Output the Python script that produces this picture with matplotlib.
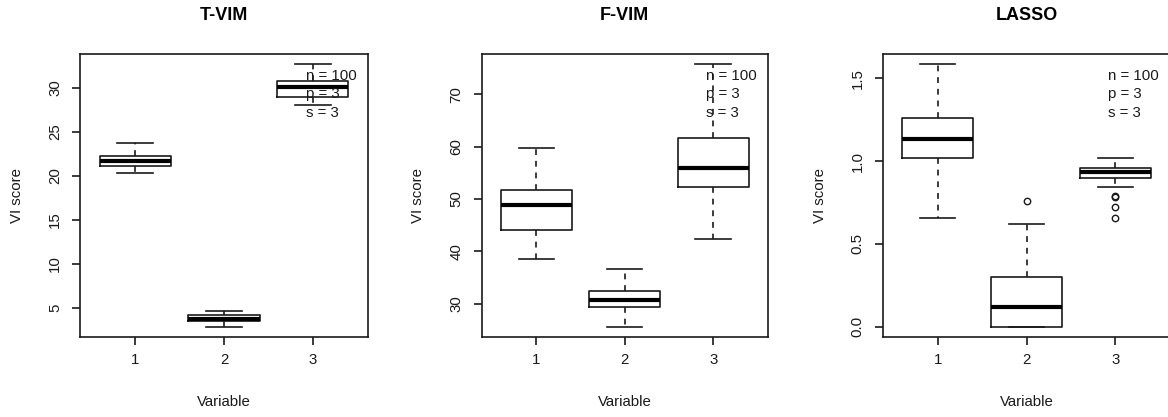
import matplotlib
matplotlib.use("Agg")
import matplotlib.pyplot as plt

plt.rcParams["font.family"] = ["Liberation Sans", "DejaVu Sans"]

# Box-plot summaries per method: (lower whisker, Q1, median, Q3, upper whisker)
variables = [1, 2, 3]

tvim_whislo = [20.29, 2.87, 28.03]
tvim_q1 = [21.09, 3.48, 28.98]
tvim_med = [21.69, 3.75, 30.10]
tvim_q3 = [22.22, 4.13, 30.80]
tvim_whishi = [23.78, 4.58, 32.66]
tvim_fliers = [[], [], []]

fvim_whislo = [38.54, 25.66, 42.44]
fvim_q1 = [44.14, 29.29, 52.20]
fvim_med = [48.78, 30.77, 55.95]
fvim_q3 = [51.66, 32.49, 61.70]
fvim_whishi = [59.66, 36.70, 75.66]
fvim_fliers = [[], [], []]

lasso_whislo = [0.656, 0.000, 0.844]
lasso_q1 = [1.017, 0.000, 0.896]
lasso_med = [1.132, 0.117, 0.933]
lasso_q3 = [1.261, 0.299, 0.959]
lasso_whishi = [1.584, 0.620, 1.021]
lasso_fliers = [[], [0.757], [0.790, 0.785, 0.723, 0.654]]

titles = ["T-VIM", "F-VIM", "LASSO"]
yticks = [[5, 10, 15, 20, 25, 30], [30, 40, 50, 60, 70], [0.0, 0.5, 1.0, 1.5]]
yticklabels = [["5", "10", "15", "20", "25", "30"],
               ["30", "40", "50", "60", "70"],
               ["0.0", "0.5", "1.0", "1.5"]]
info_lines = ["n = 100", "p = 3", "s = 3"]

panels = [
    (tvim_whislo, tvim_q1, tvim_med, tvim_q3, tvim_whishi, tvim_fliers),
    (fvim_whislo, fvim_q1, fvim_med, fvim_q3, fvim_whishi, fvim_fliers),
    (lasso_whislo, lasso_q1, lasso_med, lasso_q3, lasso_whishi, lasso_fliers),
]

W, H = 1168, 417
DPI = 100
fig = plt.figure(figsize=(W / DPI, H / DPI), dpi=DPI)

# plot regions in pixels: (left, right, top, bottom)
regions = [(80, 368, 54, 337), (481.5, 768, 54, 337), (882.5, 1170.5, 54, 337)]

FS = 10.8
lw = 1.2
ink = "#1a1a1a"

for k, (reg, stats_src) in enumerate(zip(regions, panels)):
    l, r, t, b = reg
    ax = fig.add_axes([l / W, 1 - b / H, (r - l) / W, (b - t) / H])
    whislo, q1, med, q3, whishi, fliers = stats_src
    stats = []
    for i in range(len(variables)):
        stats.append(dict(whislo=whislo[i], q1=q1[i], med=med[i], q3=q3[i],
                          whishi=whishi[i], fliers=fliers[i]))
    ax.bxp(stats, positions=variables, widths=0.8, capwidths=0.4,
           boxprops=dict(color=ink, linewidth=lw),
           whiskerprops=dict(color=ink, linewidth=lw, linestyle=(0, (3.5, 3.5))),
           capprops=dict(color=ink, linewidth=lw),
           medianprops=dict(color="black", linewidth=3.0,
                            solid_capstyle="butt"),
           flierprops=dict(marker="o", markerfacecolor="none",
                           markeredgecolor=ink, markersize=4.6,
                           markeredgewidth=1.0),
           manage_ticks=False)

    allv = whislo + whishi + [v for f in fliers for v in f]
    lo, hi = min(allv), max(allv)
    pad = 0.04 * (hi - lo)
    ax.set_ylim(lo - pad, hi + pad)
    ax.set_xlim(0.5 - 0.12, 3.5 + 0.12)

    ax.set_xticks(variables)
    ax.set_xticklabels([str(v) for v in variables], fontsize=FS, color=ink)
    ax.set_yticks(yticks[k])
    ax.set_yticklabels(yticklabels[k], fontsize=FS, rotation=90, va="center",
                       color=ink)
    ax.tick_params(axis="both", direction="out", length=5.8, width=lw,
                   color=ink)
    ax.tick_params(axis="x", pad=6.0)
    ax.tick_params(axis="y", pad=7.0)

    for sp in ax.spines.values():
        sp.set_visible(True)
        sp.set_linewidth(lw)
        sp.set_color(ink)

    ax.set_xlabel("Variable", fontsize=FS, va="center", color=ink)
    ax.xaxis.set_label_coords(0.5, -64.7 / (b - t))
    ax.set_ylabel("VI score", fontsize=FS, va="center", color=ink)
    ax.yaxis.set_label_coords(-63 / (r - l), 0.5)

    ax.text(0.5, 1 + 39 / (b - t), titles[k], transform=ax.transAxes,
            ha="center", va="center", fontsize=FS * 1.2, fontweight="bold",
            color="black")

    for j, line in enumerate(info_lines):
        ax.text(1 - 62 / (r - l), 1 - (22 + 18.3 * j) / (b - t), line,
                transform=ax.transAxes, ha="left", va="center", fontsize=FS,
                color=ink)

fig.savefig("out.png", dpi=DPI)
